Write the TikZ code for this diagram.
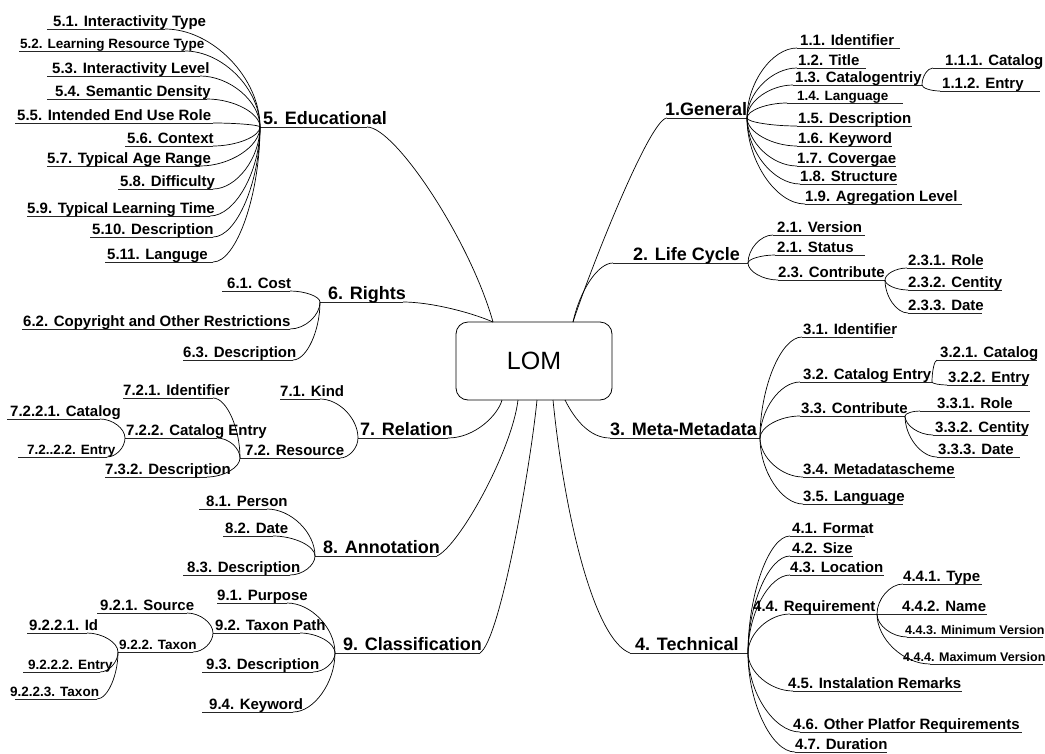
\documentclass[tikz,border=0pt]{standalone}
\usepackage{fontspec}
\setmainfont{Liberation Sans}
\usetikzlibrary{calc}
% an underlined label: style, name, line start x, line end x, line y, text x, text
\newcommand\lomitem[7]{%
  \coordinate (#2L) at (#3,#5);
  \coordinate (#2R) at (#4,#5);
  \draw[uline] (#2L) -- (#2R);
  \node[#1, anchor=base west] (#2) at (#6,#5-2.8) {#7};}
% a branch curve from a hub point to a child's underline end
\newcommand\lomfork[2]{%
  \draw[link] (#1) .. controls ($(#1)!0.5!(#1|-#2)$) and ($(#2)!0.5!(#1|-#2)$) .. (#2);}
\begin{document}
\begin{tikzpicture}[x=1pt,y=-1pt,
  link/.style={line width=0.7pt},
  uline/.style={line width=0.9pt, black!85},
  sub/.style={font=\bfseries\fontsize{15}{15}\selectfont, inner sep=0pt},
  small/.style={font=\bfseries\fontsize{13.5}{14}\selectfont, inner sep=0pt},
  tiny/.style={font=\bfseries\fontsize{12.5}{13}\selectfont, inner sep=0pt},
  main/.style={font=\bfseries\fontsize{18}{18}\selectfont, inner sep=0pt},
  root/.style={draw, line width=0.8pt, rounded corners=12pt, minimum width=156pt,
    minimum height=78pt, inner sep=0pt, font=\fontsize{25}{25}\selectfont},
]
\useasboundingbox (0,0) rectangle (1045,753);

% central node
\node[root] (lom) at (534,361) {LOM};
\coordinate (lomTL) at (493,322);
\coordinate (lomTR) at (573,322);
\coordinate (lomRel) at (502,400);
\coordinate (lomA) at (518,400);
\coordinate (lomC) at (537,400);
\coordinate (lomT) at (553,400);
\coordinate (lomM) at (565,400);

% main branches
\lomitem{main}{E}{260}{367}{127}{263}{5. Educational}
\lomitem{main}{G}{667}{747}{118}{665}{1.General}
\lomitem{main}{Lc}{613}{748}{263}{633}{2. Life Cycle}
\lomitem{main}{M}{610}{760}{438}{610}{3. Meta-Metadata}
\lomitem{main}{T}{630}{748}{653}{635}{4. Technical}
\lomitem{main}{Ri}{320}{403}{302}{328}{6. Rights}
\lomitem{main}{Rel}{358}{448}{438}{360}{7. Relation}
\lomitem{main}{A}{315}{437}{556}{323}{8. Annotation}
\lomitem{main}{C}{335}{480}{653}{343}{9. Classification}

\draw[link] (ER) .. controls +(28,0) and +(-23,-82) .. (lomTL);
\draw[link] (RiR) .. controls +(27,0) and +(-23,-10) .. (lomTL);
\draw[link] (GL) .. controls +(-17,0) and +(17,-52) .. (lomTR);
\draw[link] (LcL) .. controls +(-15,0) and +(7,-32) .. (lomTR);
\draw[link] (ML) .. controls +(-20,0) and +(10,20) .. (lomM);
\draw[link] (TL) .. controls +(-35,-13) and +(12,120) .. (lomT);
\draw[link] (RelR) .. controls +(27,0) and +(-4,15) .. (lomRel);
\draw[link] (AR) .. controls +(23,-11) and +(-6,50) .. (lomA);
\draw[link] (CR) .. controls +(20,-13) and +(-7,70) .. (lomC);

% 5. Educational
\lomitem{sub}{e1}{47}{165}{29}{53}{5.1. Interactivity Type}
\lomitem{small}{e2}{19}{185}{51}{20}{5.2. Learning Resource Type}
\lomitem{sub}{e3}{47}{200}{76}{52}{5.3. Interactivity Level}
\lomitem{sub}{e4}{47}{207}{99}{55}{5.4. Semantic Density}
\lomitem{sub}{e5}{15}{213}{123}{17}{5.5. Intended End Use Role}
\lomitem{sub}{e6}{125}{213}{146}{127}{5.6. Context}
\lomitem{sub}{e7}{47}{200}{166}{47}{5.7. Typical Age Range}
\lomitem{sub}{e8}{118}{213}{189}{120}{5.8. Difficulty}
\lomitem{sub}{e9}{27}{210}{216}{27}{5.9. Typical Learning Time}
\lomitem{sub}{e10}{90}{213}{237}{92}{5.10. Description}
\lomitem{sub}{e11}{105}{213}{262}{107}{5.11. Languge}
\foreach \ch in {e1R,e2R,e3R,e4R,e5R,e6R,e7R,e8R,e9R,e10R,e11R} {\lomfork{EL}{\ch}}

% 1. General
\lomitem{sub}{g1}{797}{900}{48}{800}{1.1. Identifier}
\lomitem{sub}{g2}{797}{866}{68}{798}{1.2. Title}
\lomitem{sub}{g3}{793}{922}{85}{795}{1.3. Catalogentriy}
\lomitem{small}{g4}{787}{903}{103}{797}{1.4. Language}
\lomitem{sub}{g5}{797}{912}{126}{798}{1.5. Description}
\lomitem{sub}{g6}{797}{892}{146}{798}{1.6. Keyword}
\lomitem{sub}{g7}{797}{896}{166}{797}{1.7. Covergae}
\lomitem{sub}{g8}{800}{897}{184}{800}{1.8. Structure}
\lomitem{sub}{g9}{805}{962}{204}{805}{1.9. Agregation Level}
\lomitem{sub}{g31}{933}{1040}{68}{945}{1.1.1. Catalog}
\lomitem{sub}{g32}{940}{1040}{91}{942}{1.1.2. Entry}
\foreach \ch in {g1L,g2L,g3L,g4L,g5L,g6L,g7L,g8L,g9L} {\lomfork{GR}{\ch}}
\foreach \ch in {g31L,g32L} {\lomfork{g3R}{\ch}}

% 2. Life Cycle
\lomitem{sub}{l1}{773}{865}{235}{777}{2.1. Version}
\lomitem{sub}{l2}{775}{865}{255}{777}{2.1. Status}
\lomitem{sub}{l3}{778}{885}{280}{778}{2.3. Contribute}
\lomitem{sub}{l31}{907}{983}{268}{908}{2.3.1. Role}
\lomitem{sub}{l32}{908}{1002}{290}{908}{2.3.2. Centity}
\lomitem{sub}{l33}{908}{982}{313}{908}{2.3.3. Date}
\foreach \ch in {l1L,l2L,l3L} {\lomfork{LcR}{\ch}}
\foreach \ch in {l31L,l32L,l33L} {\lomfork{l3R}{\ch}}

% 3. Meta-Metadata
\lomitem{sub}{m1}{802}{893}{337}{803}{3.1. Identifier}
\lomitem{sub}{m2}{800}{932}{382}{803}{3.2. Catalog Entry}
\lomitem{sub}{m21}{937}{1037}{360}{940}{3.2.1. Catalog}
\lomitem{sub}{m22}{947}{1028}{385}{948}{3.2.2. Entry}
\lomitem{sub}{m3}{800}{905}{416}{801}{3.3. Contribute}
\lomitem{sub}{m31}{920}{1030}{411}{937}{3.3.1. Role}
\lomitem{sub}{m32}{933}{1028}{435}{935}{3.3.2. Centity}
\lomitem{sub}{m33}{937}{1020}{457}{938}{3.3.3. Date}
\lomitem{sub}{m4}{803}{955}{477}{803}{3.4. Metadatascheme}
\lomitem{sub}{m5}{803}{903}{504}{803}{3.5. Language}
\foreach \ch in {m1L,m2L,m3L,m4L,m5L} {\lomfork{MR}{\ch}}
\foreach \ch in {m21L,m22L} {\lomfork{m2R}{\ch}}
\foreach \ch in {m31L,m32L,m33L} {\lomfork{m3R}{\ch}}

% 4. Technical
\lomitem{sub}{t1}{790}{865}{536}{792}{4.1. Format}
\lomitem{sub}{t2}{790}{853}{556}{792}{4.2. Size}
\lomitem{sub}{t3}{790}{884}{575}{790}{4.3. Location}
\lomitem{sub}{t4}{790}{877}{614}{753}{4.4. Requirement}
\lomitem{sub}{t41}{903}{982}{584}{903}{4.4.1. Type}
\lomitem{sub}{t42}{877}{987}{614}{902}{4.4.2. Name}
\lomitem{tiny}{t43}{907}{1043}{637}{905}{4.4.3. Minimum Version}
\lomitem{tiny}{t44}{930}{1043}{664}{903}{4.4.4. Maximum Version}
\lomitem{sub}{t5}{793}{962}{691}{788}{4.5. Instalation Remarks}
\lomitem{sub}{t6}{800}{1022}{732}{793}{4.6. Other Platfor Requirements}
\lomitem{sub}{t7}{795}{887}{752}{795}{4.7. Duration}
\foreach \ch in {t1L,t2L,t3L,t4L,t5L,t6L,t7L} {\lomfork{TR}{\ch}}
\foreach \ch in {t41L,t43L,t44L} {\lomfork{t4R}{\ch}}

% 6. Rights
\lomitem{sub}{r1}{222}{290}{291}{227}{6.1. Cost}
\lomitem{sub}{r2}{22}{290}{329}{23}{6.2. Copyright and Other Restrictions}
\lomitem{sub}{r3}{183}{293}{360}{183}{6.3. Description}
\foreach \ch in {r1R,r2R,r3R} {\lomfork{RiL}{\ch}}

% 7. Relation
\lomitem{sub}{rl1}{280}{320}{399}{280}{7.1. Kind}
\lomitem{sub}{rl2}{240}{340}{458}{245}{7.2. Resource}
\lomitem{sub}{rl21}{123}{213}{398}{123}{7.2.1. Identifier}
\lomitem{sub}{rl22}{125}{217}{438}{126}{7.2.2. Catalog Entry}
\lomitem{sub}{rl221}{7}{100}{419}{10}{7.2.2.1. Catalog}
\lomitem{small}{rl222}{18}{107}{457}{27}{7.2..2.2. Entry}
\lomitem{sub}{rl23}{105}{207}{477}{105}{7.3.2. Description}
\foreach \ch in {rl1R,rl2R} {\lomfork{RelL}{\ch}}
\foreach \ch in {rl21R,rl22R,rl23R} {\lomfork{rl2L}{\ch}}
\foreach \ch in {rl221R,rl222R} {\lomfork{rl22L}{\ch}}

% 8. Annotation
\lomitem{sub}{a1}{199}{267}{509}{206}{8.1. Person}
\lomitem{sub}{a2}{223}{273}{536}{225}{8.2. Date}
\lomitem{sub}{a3}{183}{290}{575}{187}{8.3. Description}
\foreach \ch in {a1R,a2R,a3R} {\lomfork{AL}{\ch}}

% 9. Classification
\lomitem{sub}{c1}{217}{287}{603}{217}{9.1. Purpose}
\lomitem{sub}{c2}{213}{300}{633}{215}{9.2. Taxon Path}
\lomitem{sub}{c21}{97}{187}{613}{100}{9.2.1. Source}
\lomitem{small}{c22}{118}{193}{652}{119}{9.2.2. Taxon}
\lomitem{sub}{c221}{27}{87}{633}{29}{9.2.2.1. Id}
\lomitem{small}{c222}{23}{100}{672}{28}{9.2.2.2. Entry}
\lomitem{small}{c223}{15}{97}{699}{10}{9.2.2.3. Taxon}
\lomitem{sub}{c3}{202}{313}{672}{206}{9.3. Description}
\lomitem{sub}{c4}{202}{293}{712}{209}{9.4. Keyword}
\foreach \ch in {c1R,c2R,c3R,c4R} {\lomfork{CL}{\ch}}
\foreach \ch in {c21R,c22R} {\lomfork{c2L}{\ch}}
\foreach \ch in {c221R,c222R,c223R} {\lomfork{c22L}{\ch}}
\end{tikzpicture}
\end{document}
